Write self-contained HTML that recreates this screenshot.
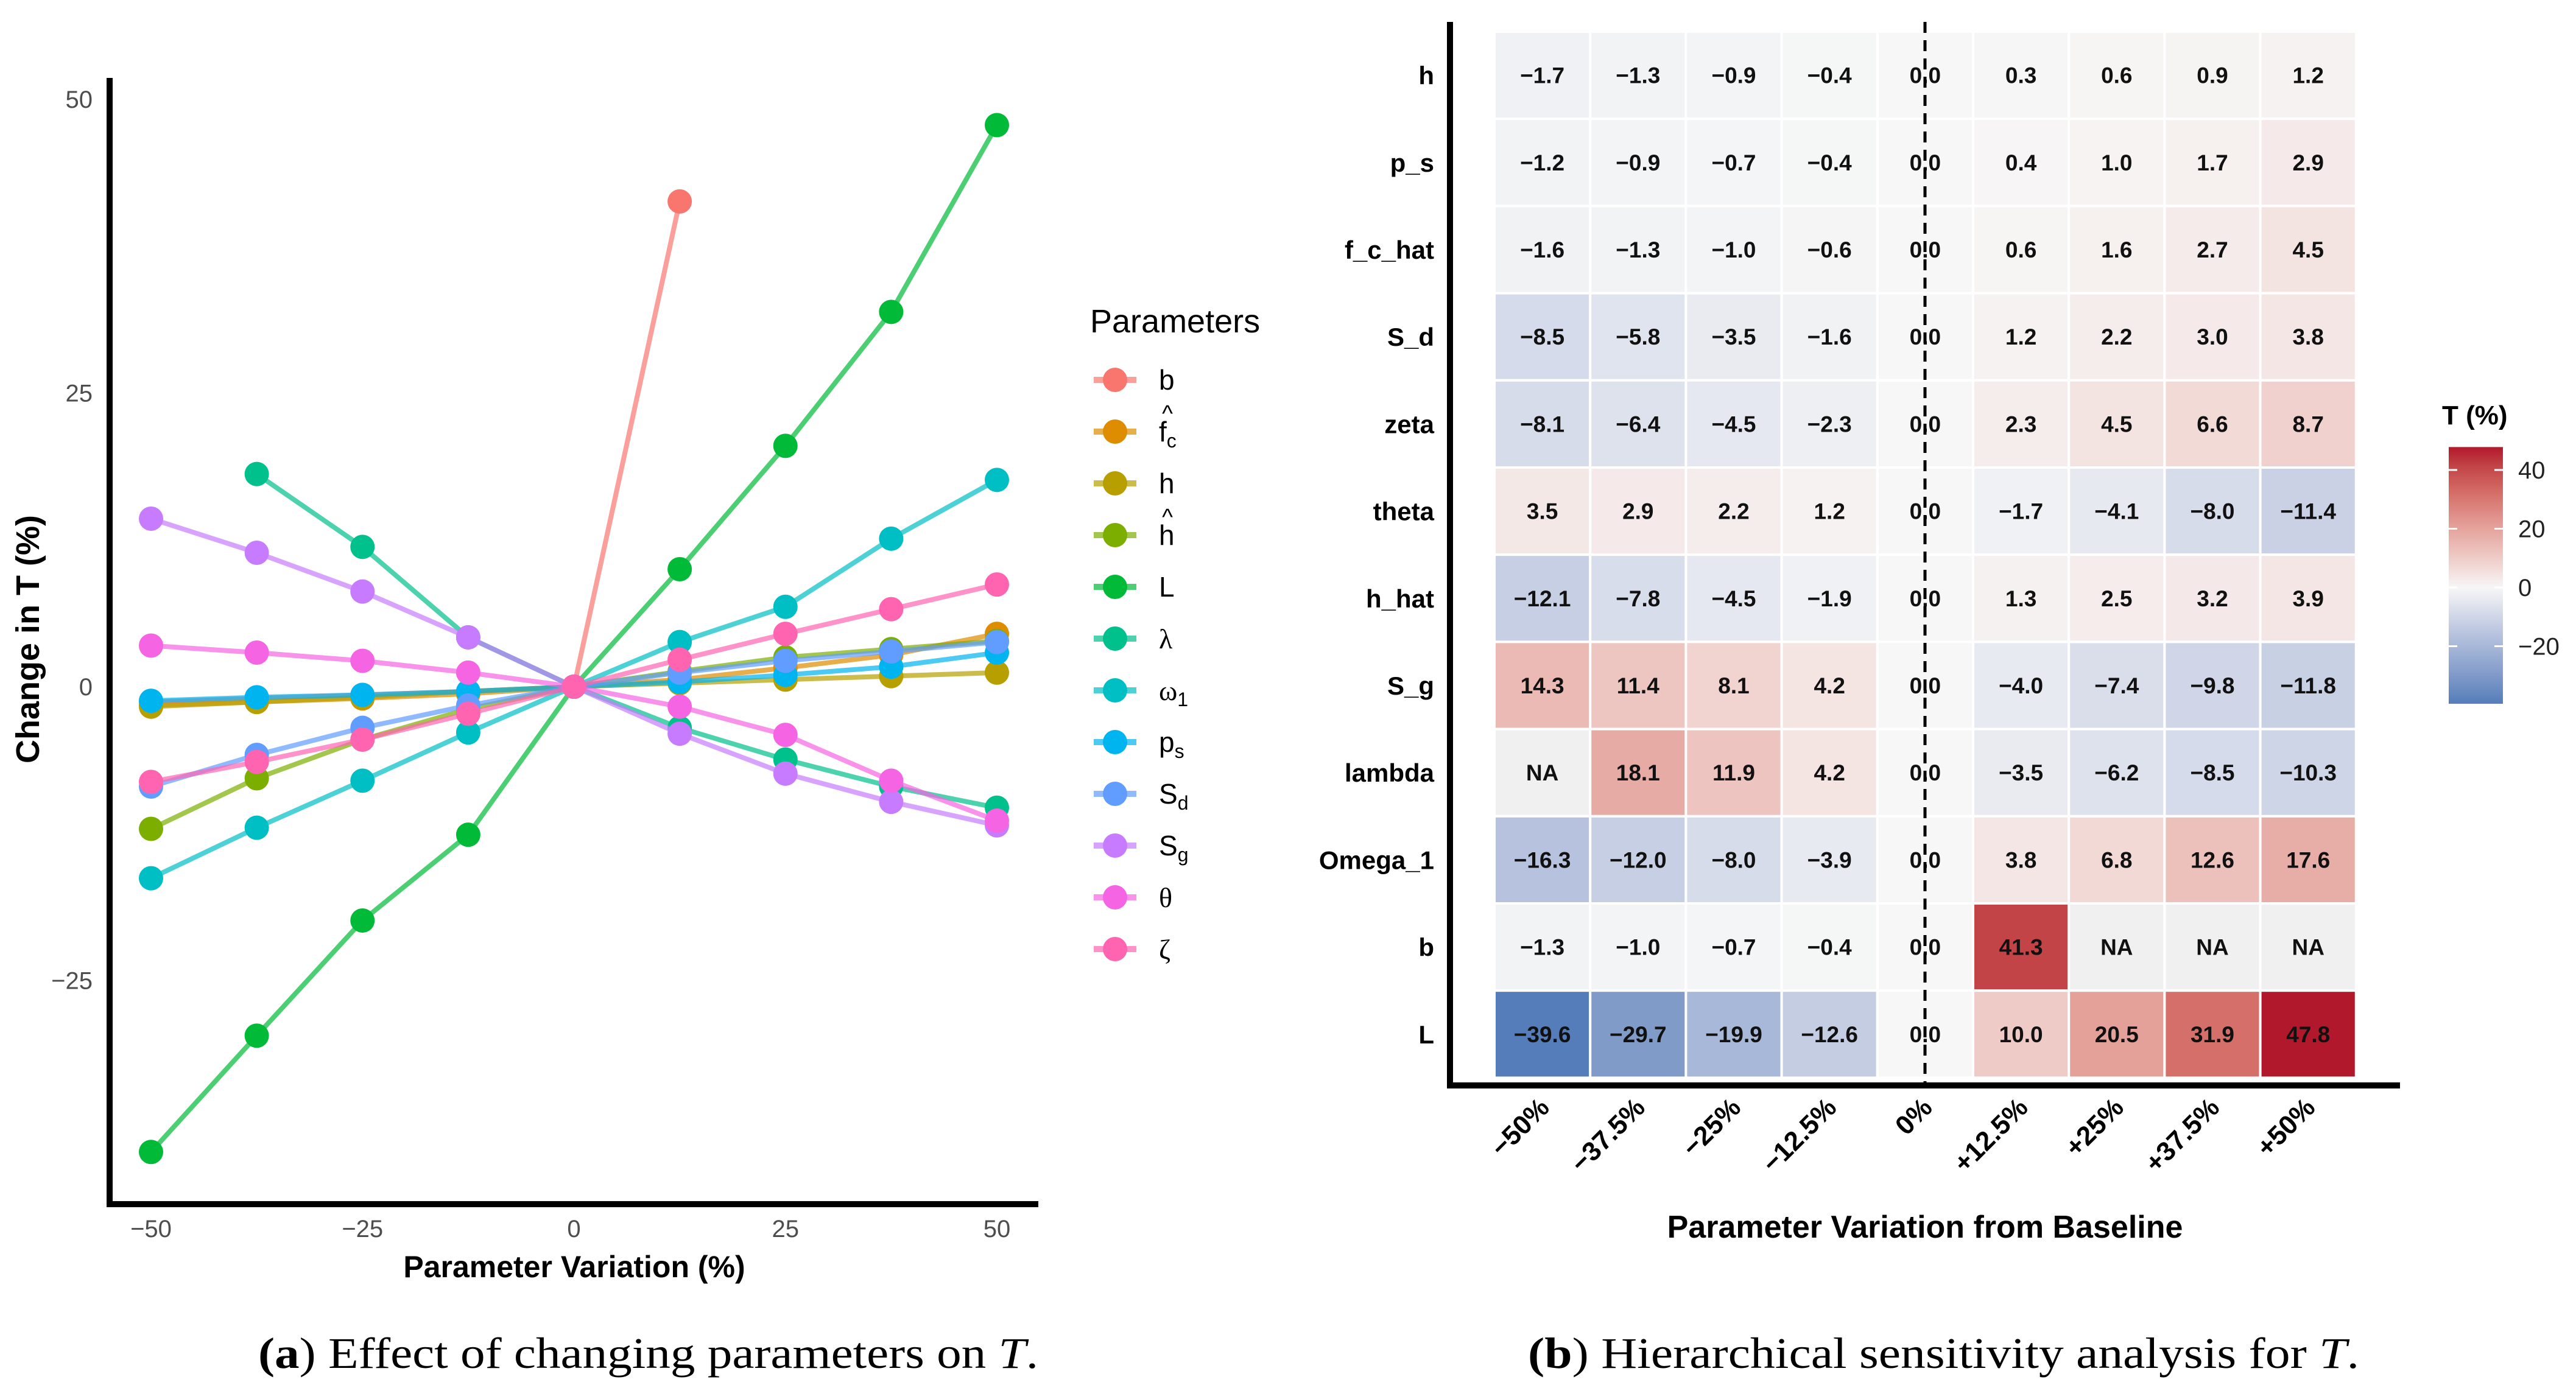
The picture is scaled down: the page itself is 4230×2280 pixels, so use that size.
<!DOCTYPE html>
<html><head><meta charset="utf-8"><style>
html,body{margin:0;padding:0;background:#fff;}
svg{display:block;font-family:"Liberation Sans",sans-serif;}
</style></head><body>
<svg id="fig" width="4230" height="2280" viewBox="0 0 4230 2280" xmlns="http://www.w3.org/2000/svg">
<rect width="4230" height="2280" fill="#fff"/>
<g id="lineplot"></g>
<g id="heatmap"></g>
<text x="424" y="2247" font-family="Liberation Serif, serif" font-size="72" textLength="1281" lengthAdjust="spacingAndGlyphs"><tspan font-weight="bold">(a</tspan>) Effect of changing parameters on <tspan font-style="italic">T</tspan>.</text>
<text x="2509" y="2247" font-family="Liberation Serif, serif" font-size="72" textLength="1365" lengthAdjust="spacingAndGlyphs"><tspan font-weight="bold">(b</tspan>) Hierarchical sensitivity analysis for <tspan font-style="italic">T</tspan>.</text>
</svg>
<script>
const NS="http://www.w3.org/2000/svg";
const variations=[-50,-37.5,-25,-12.5,0,12.5,25,37.5,50];
const xTickLabels=["-50","-25","0","25","50"];
const xTickValues=[-50,-25,0,25,50];
const yTickValues=[-25,0,25,50];
const yTickLabels=["\u221225","0","25","50"];
const seriesNames=["b","f_c_hat","h","h_hat","L","lambda","Omega_1","p_s","S_d","S_g","theta","zeta"];
const seriesColors=["#F8766D","#DE8C00","#B79F00","#7CAE00","#00BA38","#00C08B","#00BFC4","#00B4F0","#619CFF","#C77CFF","#F564E3","#FF64B0"];
const valB=[-1.3,-1.0,-0.7,-0.4,0,41.3,null,null,null];
const valFc=[-1.6,-1.3,-1.0,-0.6,0,0.6,1.6,2.7,4.5];
const valH=[-1.7,-1.3,-0.9,-0.4,0,0.3,0.6,0.9,1.2];
const valHhat=[-12.1,-7.8,-4.5,-1.9,0,1.3,2.5,3.2,3.9];
const valL=[-39.6,-29.7,-19.9,-12.6,0,10.0,20.5,31.9,47.8];
const valLambda=[null,18.1,11.9,4.2,0,-3.5,-6.2,-8.5,-10.3];
const valOmega=[-16.3,-12.0,-8.0,-3.9,0,3.8,6.8,12.6,17.6];
const valPs=[-1.2,-0.9,-0.7,-0.4,0,0.4,1.0,1.7,2.9];
const valSd=[-8.5,-5.8,-3.5,-1.6,0,1.2,2.2,3.0,3.8];
const valSg=[14.3,11.4,8.1,4.2,0,-4.0,-7.4,-9.8,-11.8];
const valTheta=[3.5,2.9,2.2,1.2,0,-1.7,-4.1,-8.0,-11.4];
const valZeta=[-8.1,-6.4,-4.5,-2.3,0,2.3,4.5,6.6,8.7];
const heatRows=["h","p_s","f_c_hat","S_d","zeta","theta","h_hat","S_g","lambda","Omega_1","b","L"];
const heatColLabels=["\u221250%","\u221237.5%","\u221225%","\u221212.5%","0%","+12.5%","+25%","+37.5%","+50%"];
const cbTickValues=[40,20,0,-20];
const cbTickLabels=["40","20","0","\u221220"];

const seriesVals={b:valB,f_c_hat:valFc,h:valH,h_hat:valHhat,L:valL,lambda:valLambda,Omega_1:valOmega,p_s:valPs,S_d:valSd,S_g:valSg,theta:valTheta,zeta:valZeta};

function mk(tag,attrs,parent){const e=document.createElementNS(NS,tag);for(const k in attrs)e.setAttribute(k,attrs[k]);parent.appendChild(e);return e;}

// ---- Line chart ----
const LP=document.getElementById('lineplot');
const xS=v=>248+(v+50)/100*(1637-248);
const yS=v=>1128-v*19.3;
let ax=mk('line',{x1:180,y1:128,x2:180,y2:1983,stroke:'#000','stroke-width':10},LP);

ax=mk('line',{x1:175,y1:1978,x2:1705,y2:1978,stroke:'#000','stroke-width':10},LP);

xTickValues.forEach((v,i)=>{const t=mk('text',{x:xS(v),y:2032,'font-size':40,fill:'#4d4d4d','text-anchor':'middle'},LP);t.textContent=xTickLabels[i].replace('-','\u2212');
});
yTickValues.forEach((v,i)=>{const t=mk('text',{x:152,y:yS(v)+14,'font-size':40,fill:'#4d4d4d','text-anchor':'end'},LP);t.textContent=yTickLabels[i];
});
let tt=mk('text',{x:943,y:2098,'font-size':50,'font-weight':'bold','text-anchor':'middle'},LP);tt.textContent='Parameter Variation (%)';

tt=mk('text',{x:64,y:1050,'font-size':54,'font-weight':'bold','text-anchor':'middle',transform:'rotate(-90 64 1050)'},LP);tt.textContent='Change in T (%)';

seriesNames.forEach((nm,si)=>{
  const vals=seriesVals[nm];const col=seriesColors[si];
  const g=mk('g',{},LP);
  
  
  let pts=[];vals.forEach((v,i)=>{if(v!==null)pts.push(xS(variations[i])+','+yS(v));});
  const pl=mk('polyline',{points:pts.join(' '),fill:'none',stroke:col,'stroke-opacity':0.7,'stroke-width':8,'stroke-linejoin':'round'},g);
  
  
  vals.forEach((v,i)=>{if(v===null)return;const c=mk('circle',{cx:xS(variations[i]),cy:yS(v),r:20,fill:col},g);
    
    });
});
// legend
const LG=mk('g',{},LP);


tt=mk('text',{x:1790,y:546,'font-size':54},LG);tt.textContent='Parameters';

const legendLabels=[["b"],["f","c",1],["h"],["h","",1],["L"],["\u03bb"],["\u03c9","1"],["p","s"],["S","d"],["S","g"],["\u03b8"],["\u03b6"]];
seriesNames.forEach((nm,i)=>{
  const y=624+i*85;const col=seriesColors[i];
  const g=mk('g',{},LG);
  
  
  mk('line',{x1:1796,y1:y,x2:1866,y2:y,stroke:col,'stroke-opacity':0.7,'stroke-width':10},g);
  mk('circle',{cx:1831,cy:y,r:20,fill:col},g);
  const L=legendLabels[i];
  const t=mk('text',{x:1903,y:y+16,'font-size':46},g);
  const isGreek=/[\u0370-\u03ff]/.test(L[0]);
  if(isGreek)t.setAttribute('font-family','Liberation Serif, serif');
  t.appendChild(document.createTextNode(L[0]));
  if(L[1]){const s=mk('tspan',{'font-size':32,dy:10,'font-family':'Liberation Sans, sans-serif'},t);s.textContent=L[1];}
  if(L[2]){const h=mk('text',{x:1917,y:y-17,'font-size':38,'text-anchor':'middle'},g);h.textContent='^';}
});

// ---- Heatmap ----
const HM=document.getElementById('heatmap');
const cx0=2454,cw=157.2,ry0=52,rh=143.2;
const heatVals=heatRows.map(r=>seriesVals[r]);
const vmin=-39.6,vmax=47.8;
const blueStops=[[0,[247,247,247]],[0.318,[197,205,227]],[0.5,[168,184,217]],[0.75,[129,155,201]],[1,[84,125,186]]];
const redStops=[[0,[247,247,247]],[0.21,[239,203,199]],[0.43,[228,161,154]],[0.667,[213,111,105]],[0.864,[194,68,71]],[1,[178,24,43]]];
function ramp(stops,t){t=Math.max(0,Math.min(1,t));for(let i=1;i<stops.length;i++){if(t<=stops[i][0]){const a=stops[i-1],b=stops[i];const f=(t-a[0])/(b[0]-a[0]);return a[1].map((v,k)=>Math.round(v+(b[1][k]-v)*f));}}return stops[stops.length-1][1];}
function colorFor(v){if(v===null)return '#f0f0f0';const c=v<0?ramp(blueStops,v/vmin):ramp(redStops,v/vmax);return 'rgb('+c.join(',')+')';}
heatRows.forEach((r,ri)=>{
  const vals=heatVals[ri];
  vals.forEach((v,ci)=>{
    const x=cx0+ci*cw,y=ry0+ri*rh;
    const rc=mk('rect',{x:x,y:y,width:cw,height:rh,fill:colorFor(v),stroke:'#fff','stroke-width':4},HM);
    
    
    const t=mk('text',{x:x+cw/2,y:y+rh/2+13,'font-size':37,'font-weight':'bold',fill:'#111','text-anchor':'middle'},HM);
    t.textContent=v===null?'NA':v.toFixed(1).replace('-','\u2212');
    
    
  });
  const lt=mk('text',{x:2355,y:ry0+ri*rh+rh/2+15,'font-size':42,'font-weight':'bold','text-anchor':'end'},HM);
  lt.textContent=r;
  
  
});
let dl=mk('line',{x1:3161,y1:36,x2:3161,y2:1781,stroke:'#000','stroke-width':5,'stroke-dasharray':'18,12'},HM);

ax=mk('line',{x1:2381,y1:36,x2:2381,y2:1788,stroke:'#000','stroke-width':10},HM);

ax=mk('line',{x1:2376,y1:1783,x2:3941,y2:1783,stroke:'#000','stroke-width':10},HM);

heatColLabels.forEach((l,ci)=>{
  const x=cx0+ci*cw+cw/2+14,y=1822;
  const t=mk('text',{x:x,y:y,'font-size':44,'font-weight':'bold','text-anchor':'end',transform:'rotate(-45 '+x+' '+y+')'},HM);
  t.textContent=l;
  
  
});
tt=mk('text',{x:3161,y:2033,'font-size':52,'font-weight':'bold','text-anchor':'middle'},HM);tt.textContent='Parameter Variation from Baseline';

// colorbar
const defs=mk('defs',{},HM);
const gr=mk('linearGradient',{id:'cbg',x1:0,y1:0,x2:0,y2:1},defs);
for(let k=0;k<=40;k++){const v=vmax+(vmin-vmax)*k/40;mk('stop',{offset:(k/40),'stop-color':colorFor(v)},gr);}
const cbY=v=>965-v*4.825;
const cb=mk('rect',{x:4021,y:cbY(vmax),width:89,height:cbY(vmin)-cbY(vmax),fill:'url(#cbg)'},HM);

tt=mk('text',{x:4010,y:697,'font-size':44,'font-weight':'bold'},HM);tt.textContent='T (%)';

cbTickValues.forEach((v,i)=>{
  mk('line',{x1:4021,y1:cbY(v),x2:4035,y2:cbY(v),stroke:'#fff','stroke-width':3},HM);
  mk('line',{x1:4096,y1:cbY(v),x2:4110,y2:cbY(v),stroke:'#fff','stroke-width':3},HM);
  const t=mk('text',{x:4135,y:cbY(v)+14,'font-size':40,fill:'#222'},HM);t.textContent=cbTickLabels[i];
  
  
});
</script>
</body></html>
